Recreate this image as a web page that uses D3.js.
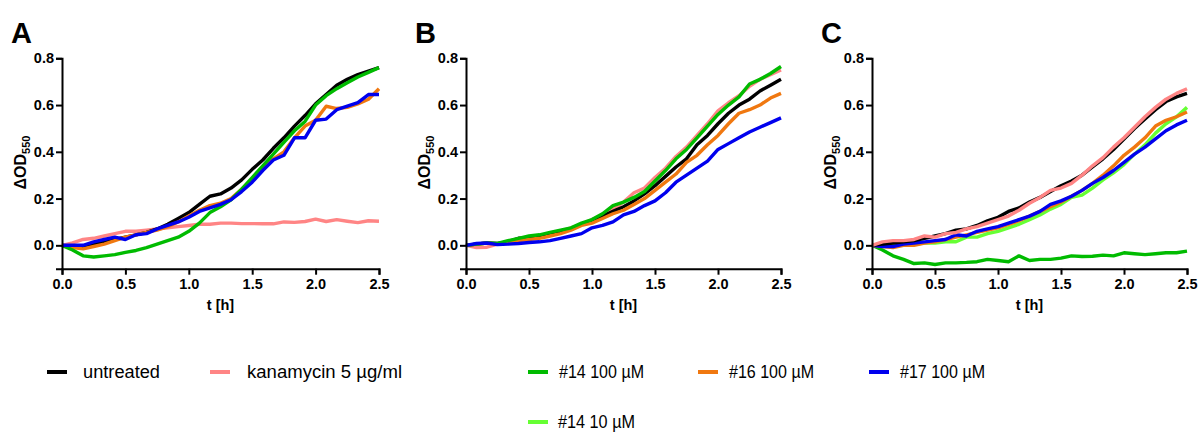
<!DOCTYPE html>
<html>
<head>
<meta charset="utf-8">
<script src="https://cdn.jsdelivr.net/npm/d3@7"></script>
<style>
  html, body { margin: 0; padding: 0; background: #fff; }
  svg { display: block; font-family: "Liberation Sans", Arial, sans-serif; }
</style>
</head>
<body>
<svg id="chart" width="1198" height="432"></svg>
<script>
// Sampling times (h), every 5 minutes
const time = d3.range(31).map(i => i / 12);

const xTicks = [0, 0.5, 1.0, 1.5, 2.0, 2.5];
const yTicks = [0, 0.2, 0.4, 0.6, 0.8];

// Series definitions (legend order)
const seriesNames  = ["untreated", "kanamycin 5 µg/ml", "#14 100 µM", "#16 100 µM", "#17 100 µM", "#14 10 µM"];
const seriesColors = ["#000000", "#ff8585", "#00bb00", "#f07810", "#0000ee", "#66ff33"];

// Panel A
const aUntreated = [0,-0.005,-0.005,0.005,0.015,0.025,0.035,0.045,0.055,0.07,0.09,0.115,0.14,0.175,0.21,0.22,0.245,0.28,0.325,0.365,0.415,0.46,0.51,0.555,0.605,0.645,0.685,0.71,0.73,0.745,0.76];
const aKanamycin = [0,0.01,0.025,0.03,0.04,0.05,0.06,0.06,0.065,0.07,0.075,0.08,0.085,0.09,0.09,0.095,0.095,0.093,0.093,0.092,0.092,0.1,0.098,0.102,0.112,0.102,0.11,0.103,0.097,0.105,0.103];
const a14_100    = [0,-0.02,-0.045,-0.05,-0.045,-0.04,-0.03,-0.022,-0.01,0.005,0.02,0.035,0.06,0.095,0.14,0.165,0.195,0.24,0.29,0.34,0.39,0.44,0.49,0.53,0.6,0.64,0.67,0.695,0.72,0.74,0.76];
const a16_100    = [0,-0.01,-0.015,-0.005,0.005,0.02,0.035,0.045,0.055,0.065,0.08,0.1,0.125,0.15,0.17,0.18,0.2,0.24,0.28,0.33,0.37,0.4,0.46,0.51,0.535,0.595,0.585,0.59,0.605,0.625,0.67];
const a17_100    = [0,0,0,0.015,0.025,0.035,0.025,0.045,0.05,0.07,0.085,0.1,0.12,0.145,0.16,0.175,0.195,0.23,0.27,0.32,0.365,0.385,0.46,0.46,0.535,0.54,0.58,0.595,0.61,0.645,0.645];

// Panel B
const bUntreated = [0,0.005,0.01,0.008,0.015,0.03,0.03,0.035,0.045,0.06,0.07,0.09,0.105,0.125,0.145,0.165,0.19,0.22,0.255,0.295,0.335,0.37,0.43,0.47,0.52,0.565,0.6,0.625,0.66,0.685,0.71];
const bKanamycin = [0,-0.01,-0.008,0.005,0.01,0.02,0.03,0.04,0.05,0.06,0.075,0.09,0.11,0.13,0.155,0.185,0.225,0.245,0.29,0.33,0.38,0.42,0.47,0.52,0.575,0.61,0.64,0.68,0.71,0.73,0.75];
const b14_100    = [0,0.005,0.01,0.008,0.02,0.03,0.04,0.045,0.055,0.065,0.075,0.095,0.11,0.135,0.17,0.185,0.205,0.23,0.275,0.32,0.37,0.41,0.46,0.51,0.56,0.6,0.635,0.69,0.71,0.735,0.765];
const b16_100    = [0,0.005,0.01,0.005,0.01,0.02,0.025,0.03,0.04,0.05,0.065,0.085,0.095,0.115,0.135,0.15,0.175,0.2,0.235,0.27,0.305,0.355,0.385,0.43,0.47,0.52,0.565,0.58,0.6,0.63,0.65];
const b17_100    = [0,0.008,0.01,0.003,0.005,0.008,0.012,0.015,0.02,0.03,0.04,0.05,0.075,0.085,0.1,0.13,0.145,0.17,0.19,0.225,0.27,0.3,0.33,0.36,0.41,0.435,0.46,0.485,0.505,0.525,0.545];

// Panel C
const cUntreated = [0,0.005,0.01,0.015,0.02,0.03,0.04,0.05,0.065,0.07,0.085,0.105,0.12,0.145,0.16,0.185,0.205,0.23,0.255,0.275,0.3,0.335,0.37,0.41,0.455,0.5,0.54,0.58,0.615,0.635,0.65];
const cKanamycin = [0,0.015,0.02,0.02,0.025,0.04,0.035,0.05,0.055,0.07,0.08,0.095,0.11,0.125,0.15,0.18,0.205,0.235,0.245,0.265,0.3,0.34,0.375,0.42,0.46,0.505,0.55,0.59,0.625,0.65,0.67];
const c14_100    = [0,-0.02,-0.045,-0.06,-0.078,-0.075,-0.082,-0.075,-0.075,-0.073,-0.07,-0.06,-0.065,-0.07,-0.045,-0.065,-0.06,-0.06,-0.055,-0.045,-0.048,-0.047,-0.042,-0.045,-0.032,-0.036,-0.04,-0.036,-0.032,-0.032,-0.025];
const c16_100    = [0,-0.005,-0.01,0,0,0.01,0.015,0.025,0.035,0.045,0.055,0.065,0.075,0.09,0.105,0.125,0.145,0.165,0.185,0.21,0.235,0.265,0.3,0.34,0.385,0.42,0.46,0.51,0.535,0.55,0.57];
const c17_100    = [0,-0.005,-0.005,0.005,0.01,0.015,0.02,0.025,0.045,0.04,0.06,0.07,0.08,0.095,0.11,0.125,0.145,0.175,0.19,0.21,0.235,0.265,0.29,0.32,0.355,0.39,0.42,0.455,0.49,0.515,0.535];
const c14_10     = [0,0,0,0.005,0.005,0.01,0.01,0.015,0.015,0.035,0.035,0.05,0.06,0.075,0.09,0.11,0.13,0.155,0.175,0.205,0.215,0.245,0.28,0.31,0.345,0.39,0.43,0.48,0.52,0.55,0.59];

// Panels: series listed in drawing order (index into seriesNames)
const panels = [
  { letter: "A", x0: 62,  x1: 379,  series: [[1, aKanamycin], [0, aUntreated], [3, a16_100], [2, a14_100], [4, a17_100]] },
  { letter: "B", x0: 466, x1: 781,  series: [[1, bKanamycin], [0, bUntreated], [3, b16_100], [2, b14_100], [4, b17_100]] },
  { letter: "C", x0: 872, x1: 1187, series: [[5, c14_10], [2, c14_100], [3, c16_100], [4, c17_100], [0, cUntreated], [1, cKanamycin]] }
];

const svg = d3.select("#chart");
const yTop = 58.3, yBottom = 268.7;

panels.forEach(p => {
  const x = d3.scaleLinear().domain([0, 2.5]).range([p.x0, p.x1]);
  const y = d3.scaleLinear().domain([-0.1, 0.8]).range([yBottom, yTop]);
  const g = svg.append("g");

  // panel letter
  g.append("text")
    .attr("x", p.x0 - 51).attr("y", 43)
    .attr("font-size", 29).attr("font-weight", "bold")
    .text(p.letter);

  // data lines
  const line = d3.line().x((d, i) => x(time[i])).y(d => y(d));
  p.series.forEach(([k, vals]) => {
    g.append("path")
      .datum(vals)
      .attr("d", line)
      .attr("fill", "none")
      .attr("stroke", seriesColors[k])
      .attr("stroke-width", 3.4)
      .attr("stroke-linejoin", "round");
  });

  // axes
  const xAxis = g.append("g")
    .attr("transform", `translate(0,${yBottom})`)
    .call(d3.axisBottom(x).tickValues(xTicks).tickFormat(d3.format(".1f")).tickSizeOuter(0).tickSize(6).tickPadding(4));
  const yAxis = g.append("g")
    .attr("transform", `translate(${p.x0},0)`)
    .call(d3.axisLeft(y).tickValues(yTicks).tickFormat(d3.format(".1f")).tickSizeOuter(0).tickSize(6).tickPadding(2));

  [xAxis, yAxis].forEach(a => {
    a.select(".domain").attr("stroke", "#000").attr("stroke-width", 2);
    a.selectAll(".tick line").attr("stroke", "#000").attr("stroke-width", 2);
    a.selectAll(".tick text")
      .attr("fill", "#000")
      .attr("font-size", 14.5).attr("font-weight", "bold")
      .attr("font-family", "'Liberation Sans', Arial, sans-serif");
  });

  // axis titles
  g.append("text")
    .attr("x", (p.x0 + p.x1) / 2).attr("y", 310)
    .attr("text-anchor", "middle")
    .attr("font-size", 14.5).attr("font-weight", "bold")
    .text("t [h]");

  const yl = g.append("text")
    .attr("transform", `translate(${p.x0 - 36},${(yTop + yBottom) / 2 - 1}) rotate(-90)`)
    .attr("text-anchor", "middle")
    .attr("font-size", 16).attr("font-weight", "bold");
  yl.append("tspan").text("ΔOD");
  yl.append("tspan").attr("font-size", 11).attr("dy", 4).text("550");
});

// legend: swatch start, label start and label width per entry
const legendItems = [
  { k: 0, x: 47,  tx: 83,  w: 77,  row: 0 },
  { k: 1, x: 210, tx: 247, w: 155, row: 0 },
  { k: 2, x: 528, tx: 559, w: 85,  row: 0 },
  { k: 3, x: 698, tx: 729, w: 85,  row: 0 },
  { k: 4, x: 869, tx: 900, w: 85,  row: 0 },
  { k: 5, x: 528, tx: 558, w: 77,  row: 1 }
];
const rowY = [372, 422];
const lg = svg.append("g");
legendItems.forEach(it => {
  const yy = rowY[it.row];
  lg.append("line")
    .attr("x1", it.x).attr("x2", it.x + 20)
    .attr("y1", yy).attr("y2", yy)
    .attr("stroke", seriesColors[it.k]).attr("stroke-width", 4);
  lg.append("text")
    .attr("x", it.tx).attr("y", yy + 6)
    .attr("font-size", 17.5)
    .attr("fill", "#000")
    .attr("textLength", it.w)
    .attr("lengthAdjust", "spacingAndGlyphs")
    .text(seriesNames[it.k]);
});
</script>
</body>
</html>
